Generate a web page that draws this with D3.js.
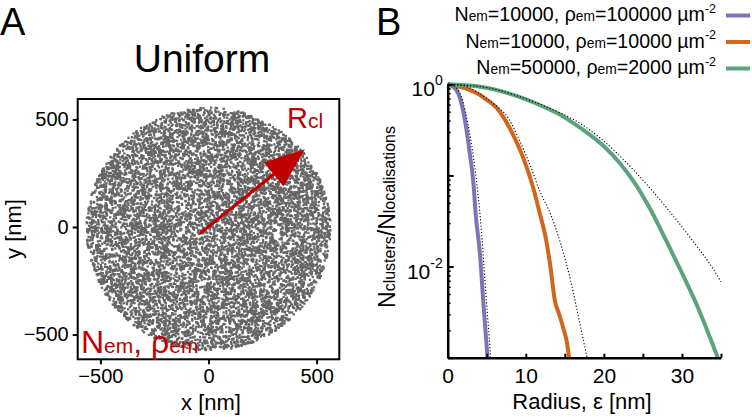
<!DOCTYPE html>
<html><head><meta charset="utf-8">
<script src="https://cdn.jsdelivr.net/npm/d3@7"></script>
<style>
body{margin:0;background:#fff}
text{font-family:"Liberation Sans",Arial,Helvetica,sans-serif;fill:#000}
</style>
</head><body>
<svg id="chart" width="752" height="417"></svg>
<script>
// ---------- Panel A data ----------
const diskRadius = 565;            // nm
const diskCenter = [0, -10];       // nm
const emitterCount = 10000;        // N_em (simulated uniform emitters)
const xTicksA = [-500, 0, 500];
const yTicksA = [-500, 0, 500];
const arrowFrom = [-40, -30];
const arrowTo = [446, 361];

// ---------- Panel B data ----------
const radiusTicks = [0, 5, 10, 15, 20, 25, 30, 35];
const radiusTickLabels = [0, 10, 20, 30];
const ratioMajorTicks = [1, 0.1, 0.01, 0.001];
const ratioMinorTicks = [0.9,0.8,0.7,0.6,0.5,0.4,0.3,0.2,0.09,0.08,0.07,0.06,0.05,0.04,0.03,0.02,0.009,0.008,0.007,0.006,0.005,0.004,0.003,0.002];
const ratioLabelValues = [1, 0.01];
const ratioLabelExponents = ["0", "-2"];

const blueX = [0, 0.94, 1.58, 2.0, 2.44, 2.86, 3.28, 3.59, 4.14, 4.56, 5.1];
const blueY = [1, 0.904, 0.702, 0.501, 0.302, 0.167, 0.0851, 0.0372, 0.0135, 0.00407, 0.001];
const blueFitX = [0, 1.0, 1.8, 2.77, 3.3, 3.7, 4.14, 4.97, 5.51];
const blueFitY = [1, 0.933, 0.708, 0.302, 0.158, 0.0851, 0.0372, 0.00407, 0.001];

const orangeX = [0, 2.86, 4.14, 5.0, 6.28, 7.13, 8.41, 9.69, 10.97, 11.83, 12.47, 13.12, 13.76, 14.18, 14.82, 15.26, 15.55];
const orangeY = [1, 0.865, 0.764, 0.676, 0.55, 0.437, 0.275, 0.155, 0.0724, 0.0372, 0.0224, 0.0105, 0.00407, 0.00316, 0.00209, 0.00148, 0.001];
const orangeFitX = [0, 2, 4, 6, 7.77, 9.27, 10.55, 11.83, 13.2, 14.4, 15.68, 16.96, 17.85];
const orangeFitY = [1, 0.97, 0.796, 0.6, 0.424, 0.234, 0.13, 0.0661, 0.0372, 0.0186, 0.00741, 0.00229, 0.001];

const greenX = [0, 4, 8, 12, 14, 16, 18, 20, 22, 24, 26, 28, 30, 31, 32, 33, 34, 34.6];
const greenY = [1, 0.944, 0.785, 0.582, 0.484, 0.38, 0.288, 0.209, 0.138, 0.0813, 0.0417, 0.0191, 0.00851, 0.00562, 0.00363, 0.00224, 0.00135, 0.001];
const greenFitX = [0, 5, 8.41, 12.69, 16.96, 19.53, 23.79, 28.08, 31.49, 33.63, 35];
const greenFitY = [1, 0.92, 0.77, 0.562, 0.372, 0.257, 0.115, 0.0437, 0.0186, 0.0105, 0.0068];

const seriesColors = ["#7a76b8", "#d2661c", "#5aa37c"];
const legendN = ["10000", "10000", "50000"];
const legendRho = ["100000", "10000", "2000"];

// ---------- drawing ----------
const svg = d3.select("#chart");
const red = "#c00000";

// Panel letters
svg.append("text").attr("x", 0).attr("y", 35).attr("font-size", 38).text("A");
svg.append("text").attr("x", 376).attr("y", 35).attr("font-size", 38).text("B");
svg.append("text").attr("x", 202).attr("y", 72).attr("font-size", 39).attr("text-anchor", "middle").text("Uniform");

// ----- Panel A -----
const xA = d3.scaleLinear().domain([-605, 605]).range([77.7, 339.3]);
const yA = d3.scaleLinear().domain([-615, 595]).range([359.3, 99]);

// uniform emitters in a disk (seeded generator to mimic simulated uniform distribution)
const rnd = d3.randomLcg(0.4271);
const pts = d3.range(emitterCount).map(() => {
  const r = diskRadius * Math.sqrt(rnd());
  const t = 2 * Math.PI * rnd();
  return [diskCenter[0] + r * Math.cos(t), diskCenter[1] + r * Math.sin(t)];
});
const gA = svg.append("g");
gA.append("g").selectAll("rect").data(pts).join("rect")
  .attr("x", d => xA(d[0]) - 1.15).attr("y", d => yA(d[1]) - 1.15)
  .attr("width", 2.3).attr("height", 2.3).attr("fill", "#666666");

// frame
gA.append("rect").attr("x", xA(-605)).attr("y", yA(595))
  .attr("width", xA(605) - xA(-605)).attr("height", yA(-615) - yA(595))
  .attr("fill", "none").attr("stroke", "#000").attr("stroke-width", 2);

const axA_x = gA.append("g").attr("transform", `translate(0,${yA(-615)})`)
  .call(d3.axisBottom(xA).tickValues(xTicksA).tickSize(5).tickSizeOuter(0).tickPadding(4));
const axA_y = gA.append("g").attr("transform", `translate(${xA(-605)},0)`)
  .call(d3.axisLeft(yA).tickValues(yTicksA).tickSize(5).tickSizeOuter(0).tickPadding(4));
[axA_x, axA_y].forEach(a => {
  a.select(".domain").remove();
  a.selectAll(".tick line").attr("stroke", "#000").attr("stroke-width", 2);
  a.selectAll(".tick text").attr("font-size", 20).attr("font-family", "Liberation Sans, Arial, sans-serif").attr("fill", "#000");
});
axA_x.selectAll(".tick text").attr("dy", null).attr("y", 24);
axA_y.selectAll(".tick text").attr("x", -9);

svg.append("text").attr("x", 211).attr("y", 410).attr("font-size", 22).attr("text-anchor", "middle").text("x [nm]");
svg.append("text").attr("transform", "translate(21,229) rotate(-90)").attr("font-size", 22).attr("text-anchor", "middle").text("y [nm]");

// arrow
const ax0 = xA(arrowFrom[0]), ay0 = yA(arrowFrom[1]), ax1 = xA(arrowTo[0]), ay1 = yA(arrowTo[1]);
const L = Math.hypot(ax1 - ax0, ay1 - ay0), ux = (ax1 - ax0) / L, uy = (ay1 - ay0) / L;
const headLen = 40, headHalf = 15.5;
const bx = ax1 - ux * headLen, by = ay1 - uy * headLen;
gA.append("line").attr("x1", ax0).attr("y1", ay0).attr("x2", bx + ux * 4).attr("y2", by + uy * 4)
  .attr("stroke", red).attr("stroke-width", 3.2);
gA.append("path").attr("d", `M${ax1},${ay1}L${bx - uy * headHalf},${by + ux * headHalf}L${bx + uy * headHalf},${by - ux * headHalf}Z`)
  .attr("fill", red);

const rcl = svg.append("text").attr("x", 287).attr("y", 128).style("fill", red);
rcl.append("tspan").attr("font-size", 29).text("R");
rcl.append("tspan").attr("font-size", 21).text("cl");

const nem = svg.append("text").attr("x", 81).attr("y", 353).style("fill", red);
nem.append("tspan").attr("font-size", 32).text("N");
nem.append("tspan").attr("font-size", 21).text("em");
nem.append("tspan").attr("font-size", 32).text(", ρ");
nem.append("tspan").attr("font-size", 21).text("em");

// ----- Panel B -----
const xB = d3.scaleLinear().domain([0, 35]).range([447.7, 721]);
const yB = d3.scaleLog().domain([0.001, 1]).range([357.7, 84.3]);
const gB = svg.append("g");

const line = d3.line().x(d => xB(d[0])).y(d => yB(d[1])).curve(d3.curveMonotoneX);
const series = [
  {x: blueX, y: blueY, fx: blueFitX, fy: blueFitY, c: seriesColors[0]},
  {x: orangeX, y: orangeY, fx: orangeFitX, fy: orangeFitY, c: seriesColors[1]},
  {x: greenX, y: greenY, fx: greenFitX, fy: greenFitY, c: seriesColors[2]}
];
series.forEach(s => {
  gB.append("path").attr("d", line(s.x.map((v, i) => [v, s.y[i]])))
    .attr("fill", "none").attr("stroke", s.c).attr("stroke-width", 4).attr("stroke-linecap", "butt");
});
series.forEach(s => {
  gB.append("path").attr("d", line(s.fx.map((v, i) => [v, s.fy[i]])))
    .attr("fill", "none").attr("stroke", "#000").attr("stroke-width", 1.1).attr("stroke-dasharray", "1.2,2");
});

// axes
const axB_x = gB.append("g").attr("transform", `translate(0,${yB(0.001)})`)
  .call(d3.axisBottom(xB).tickValues(radiusTicks).tickSize(-4).tickSizeOuter(0)
    .tickFormat(d => radiusTickLabels.includes(d) ? d : ""));
axB_x.select(".domain").attr("stroke-width", 2.5);
axB_x.selectAll(".tick line").attr("stroke-width", 2);
axB_x.selectAll(".tick text").attr("font-size", 21).attr("y", 25).attr("dy", null)
  .attr("font-family", "Liberation Sans, Arial, sans-serif").attr("fill", "#000");

const axB_ym = gB.append("g").attr("transform", `translate(${xB(0)},0)`)
  .call(d3.axisLeft(yB).tickValues(ratioMinorTicks).tickSize(-3).tickSizeOuter(0).tickFormat(""));
axB_ym.select(".domain").remove();
axB_ym.selectAll(".tick line").attr("stroke-width", 1.5);

const axB_y = gB.append("g").attr("transform", `translate(${xB(0)},0)`)
  .call(d3.axisLeft(yB).tickValues(ratioMajorTicks).tickSize(-6).tickSizeOuter(0).tickFormat(""));
axB_y.select(".domain").attr("stroke-width", 2.5);
axB_y.selectAll(".tick line").attr("stroke-width", 2);

ratioLabelValues.forEach((v, i) => {
  const t = gB.append("text").attr("x", xB(0) - 5).attr("y", yB(v) + 12).attr("text-anchor", "end");
  t.append("tspan").attr("font-size", 21).text("10");
  t.append("tspan").attr("font-size", 14).attr("dy", -11).text(ratioLabelExponents[i]);
});

svg.append("text").attr("x", 582).attr("y", 409).attr("font-size", 22).attr("text-anchor", "middle").text("Radius, ε [nm]");
const yl = svg.append("text").attr("transform", "translate(395,217) rotate(-90)").attr("text-anchor", "middle");
yl.append("tspan").attr("font-size", 23).text("N");
yl.append("tspan").attr("font-size", 16).text("clusters");
yl.append("tspan").attr("font-size", 23).text("/N");
yl.append("tspan").attr("font-size", 16).text("localisations");

// legend
const legendRowsY = [21, 47.5, 74];
legendN.forEach((n, i) => {
  const t = svg.append("text").attr("x", 716).attr("y", legendRowsY[i]).attr("text-anchor", "end");
  t.append("tspan").attr("font-size", 19.6).text("N");
  t.append("tspan").attr("font-size", 13.8).text("em");
  t.append("tspan").attr("font-size", 19.6).text("=" + n + ", ρ");
  t.append("tspan").attr("font-size", 13.8).text("em");
  t.append("tspan").attr("font-size", 19.6).text("=" + legendRho[i] + " µm");
  t.append("tspan").attr("font-size", 12.5).attr("dy", -8.5).text("-2");
  svg.append("line").attr("x1", 726).attr("x2", 750)
    .attr("y1", legendRowsY[i] - 5.5).attr("y2", legendRowsY[i] - 5.5)
    .attr("stroke", seriesColors[i]).attr("stroke-width", 4);
});
</script>
</body></html>
